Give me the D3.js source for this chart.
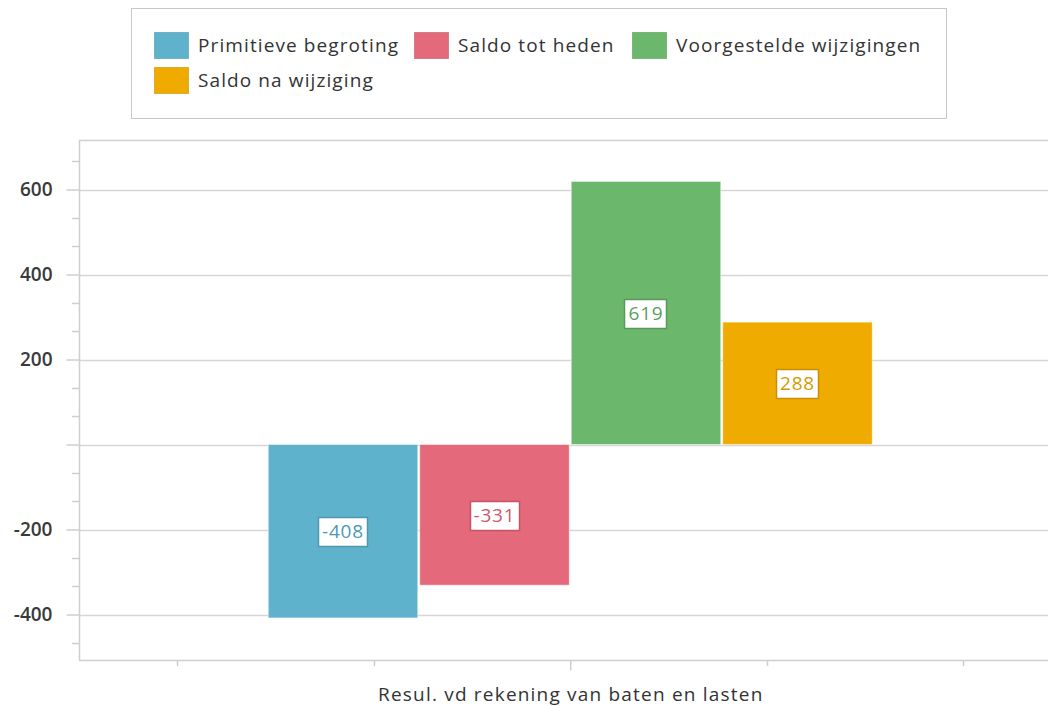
<!DOCTYPE html>
<html><head><meta charset="utf-8">
<script src="https://cdn.jsdelivr.net/npm/d3@7"></script>
<style>
html,body{margin:0;padding:0;background:#fff;}
svg{display:block;font-family:"Open Sans","DejaVu Sans",sans-serif;}
</style></head>
<body>
<svg id="chart" width="1048" height="706"></svg>
<script>
const categories = ["Resul. vd rekening van baten en lasten"];
const seriesNames = ["Primitieve begroting", "Saldo tot heden", "Voorgestelde wijzigingen", "Saldo na wijziging"];
const seriesValues = [-408, -331, 619, 288];
const seriesColors = ["#5fb2cb", "#e4697a", "#6bb76c", "#f0ab00"];
const labelBorders = ["#4f97ad", "#c25666", "#57995a", "#c98f00"];
const labelColors = ["#4a9ab4", "#d0596b", "#5a9f5c", "#d99a00"];
const yTickValues = [-400, -200, 0, 200, 400, 600];

const fmt = v => String(v);
const svg = d3.select("#chart");
const plot = {left: 79, top: 140, bottom: 660, right: 1048};

const y = d3.scaleLinear().domain([-507, 716.5]).range([plot.bottom, plot.top]);
const x = d3.scaleLinear().domain([-2.5, 2.5]).range([plot.left, plot.left + 5 * 196.5]);
const xb = d3.scaleBand().domain(seriesNames)
  .range([x(0) - 302, x(0) + 302]).paddingInner(0.013).paddingOuter(0);

// legend
const lg = svg.append("g");
lg.append("rect").attr("x", 131.5).attr("y", 8.5).attr("width", 815).attr("height", 110)
  .attr("fill", "#fff").attr("stroke", "#c8c8c8");
const legendPos = [[154, 32], [414, 32], [632, 32], [154, 67]];
seriesNames.forEach((s, i) => {
  const [lx, ly] = legendPos[i];
  lg.append("rect").attr("x", lx + 0.5).attr("y", ly + 0.5).attr("width", 34).attr("height", 26)
    .attr("fill", seriesColors[i]).attr("stroke", labelBorders[i]).attr("stroke-opacity", 0.6);
  lg.append("text").attr("x", lx + 44).attr("y", ly + 20).attr("font-size", 19)
    .attr("letter-spacing", 1.1).attr("fill", "#333").text(s);
});

// gridlines
svg.append("g").selectAll("line").data(yTickValues).join("line")
  .attr("x1", plot.left).attr("x2", plot.right)
  .attr("y1", d => Math.round(y(d)) + 0.5).attr("y2", d => Math.round(y(d)) + 0.5)
  .attr("stroke", "#d6d6d6").attr("stroke-width", 1.5);

// top border
svg.append("line").attr("x1", plot.left).attr("x2", plot.right)
  .attr("y1", plot.top + 0.5).attr("y2", plot.top + 0.5).attr("stroke", "#d0d0d0").attr("stroke-width", 1.5);

// bars
const bars = svg.append("g");
seriesNames.forEach((s, i) => {
  const v = seriesValues[i];
  const bx = xb(s), bw = xb.bandwidth();
  const y0 = y(0), y1 = y(v);
  bars.append("rect").attr("x", bx).attr("width", bw)
    .attr("y", Math.min(y0, y1)).attr("height", Math.abs(y1 - y0))
    .attr("fill", seriesColors[i]).attr("stroke", "#fff").attr("stroke-opacity", 0.5).attr("stroke-width", 1);
});

// y axis
const yAxis = d3.axisLeft(y).tickValues(yTickValues).tickSize(13).tickPadding(14)
  .tickFormat(d => d === 0 ? "" : fmt(d));
const ga = svg.append("g").attr("transform", `translate(${plot.left + 0.5},0)`).call(yAxis);
ga.select(".domain").attr("stroke", "#cfcfcf").attr("stroke-width", 1.5).attr("d", `M0,${plot.top}V${plot.bottom}`);
ga.selectAll(".tick line").attr("stroke", "#cfcfcf").attr("stroke-width", 1.5);
ga.selectAll(".tick text").attr("font-size", 19).attr("fill", "#3a3a3a")
  .attr("font-family", "'Open Sans',sans-serif").attr("font-weight", 600);

// y minor ticks
const minor = d3.range(-7, 11).map(k => k * 200 / 3).filter(v => Math.abs(v % 200) > 1 && Math.abs(v % 200) < 199);
svg.append("g").selectAll("line").data(minor.filter(v => y(v) > plot.top && y(v) < plot.bottom)).join("line")
  .attr("x1", plot.left - 7).attr("x2", plot.left)
  .attr("y1", d => Math.round(y(d)) + 0.5).attr("y2", d => Math.round(y(d)) + 0.5)
  .attr("stroke", "#cfcfcf").attr("stroke-width", 1.5);

// x axis
const xAxis = d3.axisBottom(x).tickValues([0]).tickSize(10).tickPadding(17)
  .tickFormat(() => categories[0]);
const gx = svg.append("g").attr("transform", `translate(0,${plot.bottom + 0.5})`).call(xAxis);
gx.select(".domain").attr("stroke", "#cfcfcf").attr("stroke-width", 1.5).attr("d", `M${plot.left},0H${plot.right}`);
gx.selectAll(".tick line").attr("stroke", "#cfcfcf").attr("stroke-width", 1.5);
gx.selectAll(".tick text").attr("font-size", 19).attr("letter-spacing", 1.2).attr("fill", "#333")
  .attr("font-family", "'Open Sans',sans-serif");
svg.append("g").selectAll("line").data([-2, -1, 1, 2]).join("line")
  .attr("x1", d => Math.round(x(d)) + 0.5).attr("x2", d => Math.round(x(d)) + 0.5)
  .attr("y1", plot.bottom).attr("y2", plot.bottom + 6)
  .attr("stroke", "#cfcfcf").attr("stroke-width", 1.5);

// value labels
const lbl = svg.append("g");
seriesNames.forEach((s, i) => {
  const v = seriesValues[i];
  const cx = xb(s) + xb.bandwidth() / 2;
  const cy = (y(0) + y(v)) / 2;
  const t = lbl.append("text").attr("x", cx).attr("y", cy + 7).attr("text-anchor", "middle")
    .attr("font-size", 19).attr("letter-spacing", 0.8).attr("fill", labelColors[i]).text(fmt(v));
  const bb = t.node().getBBox();
  lbl.insert("rect", "text").attr("x", Math.round(bb.x - 4) + 0.5).attr("y", Math.round(cy - 14) + 0.5)
    .attr("width", Math.round(bb.width + 7)).attr("height", 29)
    .attr("fill", "#fff").attr("stroke", labelBorders[i]).attr("stroke-width", 1.5);
});
</script>
</body></html>
